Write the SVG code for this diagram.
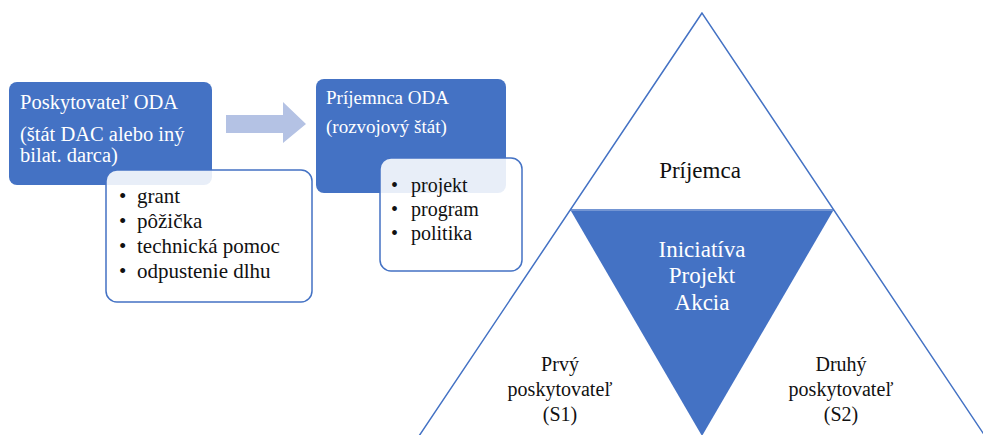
<svg xmlns="http://www.w3.org/2000/svg" width="983" height="435" viewBox="0 0 983 435">
<style>
text{font-family:'Liberation Serif','Tinos','DejaVu Serif',serif;}
.w{fill:#ffffff;}
.k{fill:#111111;}
.blue{fill:#4472C4;}
.card{fill:#ffffff;fill-opacity:0.88;stroke:#4472C4;stroke-width:1.5;}
.edge{fill:none;stroke:#4472C4;stroke-width:1.5;}
</style>
<rect width="983" height="435" fill="#ffffff"/>
<g id="connectors">
<polygon points="226,115 283,115 283,102 306,124 283,143 283,133 226,133" fill="#B4C2E4"/>
</g>
<g id="poskytovatel" font-family="Liberation Serif, serif">
<rect x="9" y="82" width="203" height="103" rx="8" class="blue"/>
<text class="w" font-size="20.5" x="20" y="109">Poskytovateľ ODA</text>
<text class="w" font-size="20.5" x="20" y="141">(štát DAC alebo iný</text>
<text class="w" font-size="20.5" x="20" y="162">bilat. darca)</text>
</g>
<g id="formy" font-family="Liberation Serif, serif">
<rect x="106" y="170" width="206" height="132" rx="11" class="card"/>
<text class="k" font-size="21" x="119" y="203">•</text><text class="k" font-size="21" x="137" y="203">grant</text>
<text class="k" font-size="21" x="119" y="228">•</text><text class="k" font-size="21" x="137" y="228">pôžička</text>
<text class="k" font-size="21" x="119" y="253">•</text><text class="k" font-size="21" x="137" y="253">technická pomoc</text>
<text class="k" font-size="21" x="119" y="278">•</text><text class="k" font-size="21" x="137" y="278">odpustenie dlhu</text>
</g>
<g id="prijemnca" font-family="Liberation Serif, serif">
<rect x="316" y="79" width="190" height="114" rx="8" class="blue"/>
<text class="w" font-size="19" x="326" y="104">Príjemnca ODA</text>
<text class="w" font-size="19" x="326" y="133">(rozvojový štát)</text>
</g>
<g id="typy" font-family="Liberation Serif, serif">
<rect x="380" y="158" width="142" height="113" rx="11" class="card"/>
<text class="k" font-size="20" x="391" y="192">•</text><text class="k" font-size="20" x="411" y="192">projekt</text>
<text class="k" font-size="20" x="391" y="216">•</text><text class="k" font-size="20" x="411" y="216">program</text>
<text class="k" font-size="20" x="391" y="240">•</text><text class="k" font-size="20" x="411" y="240">politika</text>
</g>
<g id="trojuholnik">
<polygon points="702,13 419,436 985,436" class="edge"/>
<line x1="570" y1="210" x2="834" y2="210" class="edge"/>
</g>
<g id="iniciativa" font-family="Liberation Serif, serif">
<polygon points="571,211 833,211 702,436" class="blue"/>
<text class="w" font-size="23" x="702" y="257" text-anchor="middle">Iniciatíva</text>
<text class="w" font-size="23" x="702" y="283" text-anchor="middle">Projekt</text>
<text class="w" font-size="23" x="702" y="310" text-anchor="middle">Akcia</text>
</g>
<g id="prijemca" font-family="Liberation Serif, serif">
<text class="k" font-size="23" x="700" y="178" text-anchor="middle">Príjemca</text>
</g>
<g id="s1" font-family="Liberation Serif, serif">
<text class="k" font-size="20" x="560" y="371" text-anchor="middle">Prvý</text>
<text class="k" font-size="20" x="560" y="396" text-anchor="middle">poskytovateľ</text>
<text class="k" font-size="20" x="560" y="421" text-anchor="middle">(S1)</text>
</g>
<g id="s2" font-family="Liberation Serif, serif">
<text class="k" font-size="20" x="841" y="371" text-anchor="middle">Druhý</text>
<text class="k" font-size="20" x="841" y="396" text-anchor="middle">poskytovateľ</text>
<text class="k" font-size="20" x="841" y="421" text-anchor="middle">(S2)</text>
</g>
</svg>
